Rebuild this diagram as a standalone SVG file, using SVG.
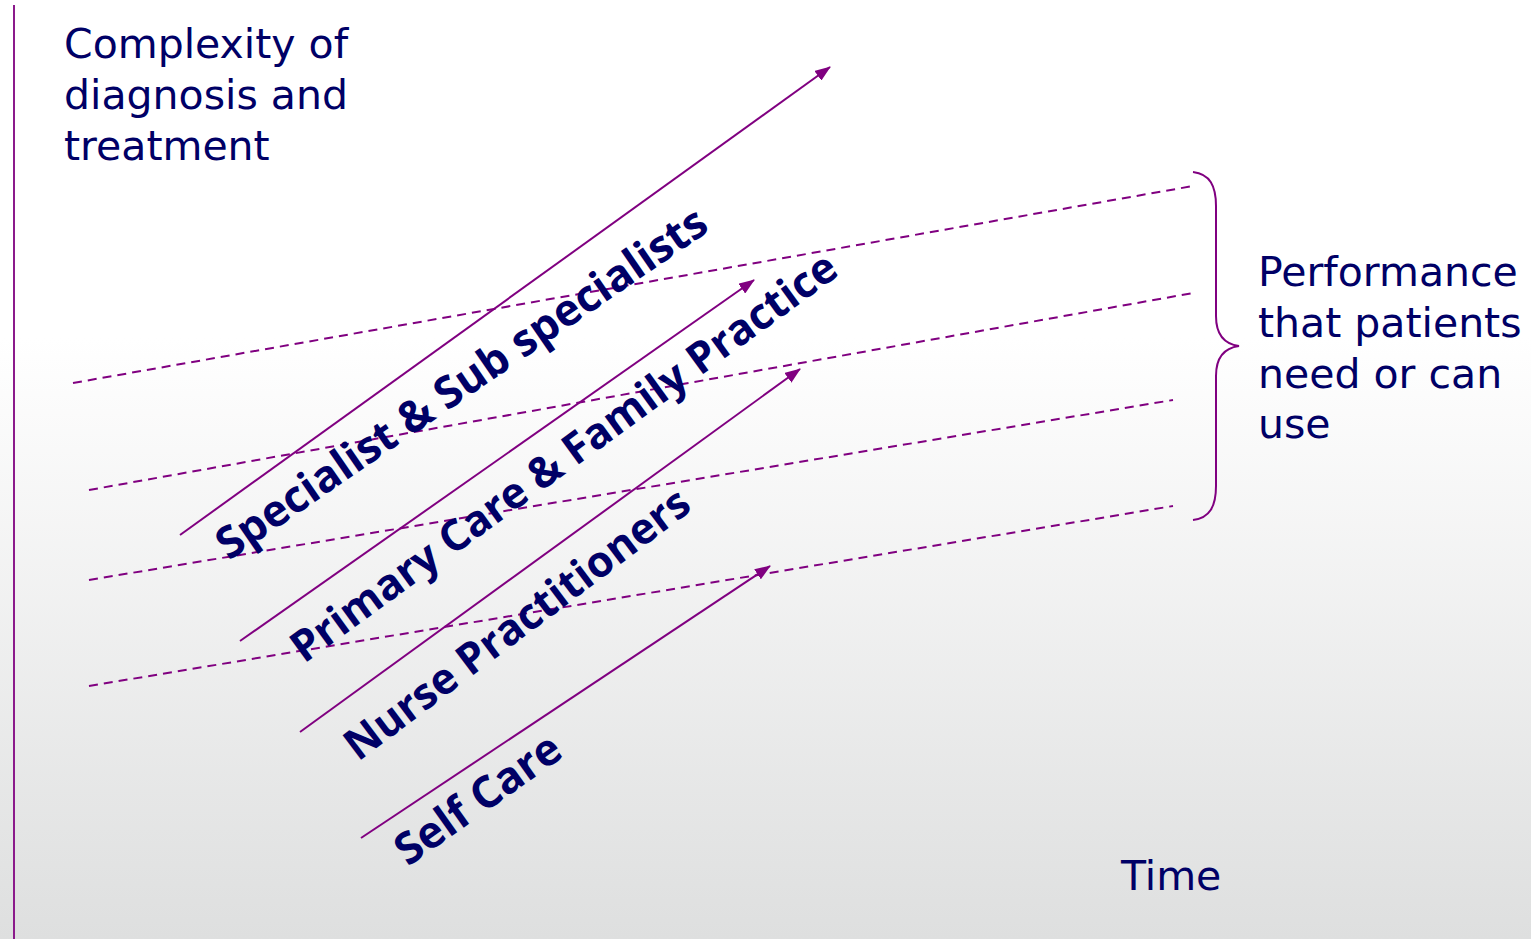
<svg xmlns="http://www.w3.org/2000/svg" width="1531" height="939" viewBox="0 0 1531 939">
<defs>
<linearGradient id="bg" x1="0" y1="0" x2="0" y2="1">
<stop offset="0" stop-color="#ffffff"/>
<stop offset="0.36" stop-color="#ffffff"/>
<stop offset="1" stop-color="#dedfdf"/>
</linearGradient>
<marker id="ah" viewBox="0 0 16 12" refX="15" refY="6" markerWidth="16" markerHeight="12" markerUnits="userSpaceOnUse" orient="auto">
<path d="M0,0 L16,6 L0,12 Z" fill="#800080"/>
</marker>
<style>
.lbl{font-family:"DejaVu Sans",Verdana,sans-serif;font-size:41px;fill:#000066}
.rot{font-family:"Open Sans","DejaVu Sans",sans-serif;font-weight:bold;fill:#000066}
.arr{stroke:#800080;stroke-width:2;fill:none;marker-end:url(#ah)}
.dash{stroke:#800080;stroke-width:2;fill:none;stroke-dasharray:9 6}
</style>
</defs>
<rect width="1531" height="939" fill="url(#bg)"/>
<g id="axis">
<line x1="14" y1="5" x2="14" y2="939" stroke="#8b1a8b" stroke-width="2"/>
</g>
<g id="connectors">
<line class="dash" x1="73" y1="383" x2="1193" y2="186"/>
<line class="dash" x1="89" y1="490" x2="1193" y2="293"/>
<line class="dash" x1="89" y1="580" x2="1173" y2="400"/>
<line class="dash" x1="89" y1="686" x2="1173" y2="506"/>
<line class="arr" x1="180" y1="535" x2="830" y2="67"/>
<line class="arr" x1="240" y1="641" x2="754" y2="280"/>
<line class="arr" x1="300" y1="732" x2="800" y2="369"/>
<line class="arr" x1="361" y1="838" x2="770" y2="566"/>
</g>
<g id="brace">
<path d="M1193,172 C1210,174 1216,186 1216,206 L1216,316 C1216,334 1224,344 1239,346 C1224,348 1216,358 1216,376 L1216,486 C1216,506 1210,518 1193,520" stroke="#800080" stroke-width="2" fill="none"/>
</g>
<g id="y-label">
<text class="lbl" x="64" y="58">Complexity of</text>
<text class="lbl" x="64" y="109">diagnosis and</text>
<text class="lbl" x="64" y="160">treatment</text>
</g>
<g id="perf-label">
<text class="lbl" x="1258" y="286">Performance</text>
<text class="lbl" x="1258" y="337">that patients</text>
<text class="lbl" x="1258" y="388">need or can</text>
<text class="lbl" x="1258" y="438">use</text>
</g>
<g id="time-label">
<text class="lbl" x="1121" y="890">Time</text>
</g>
<g id="specialist">
<text class="rot" font-size="44" transform="translate(229,561) rotate(-34.5)">Specialist &amp; Sub specialists</text>
</g>
<g id="primary">
<text class="rot" font-size="43" transform="translate(304,664) rotate(-36)">Primary Care &amp; Family Practice</text>
</g>
<g id="nurse">
<text class="rot" font-size="43" transform="translate(358,762) rotate(-37)">Nurse Practitioners</text>
</g>
<g id="selfcare">
<text class="rot" font-size="44" transform="translate(408,867) rotate(-35.3)">Self Care</text>
</g>
</svg>
